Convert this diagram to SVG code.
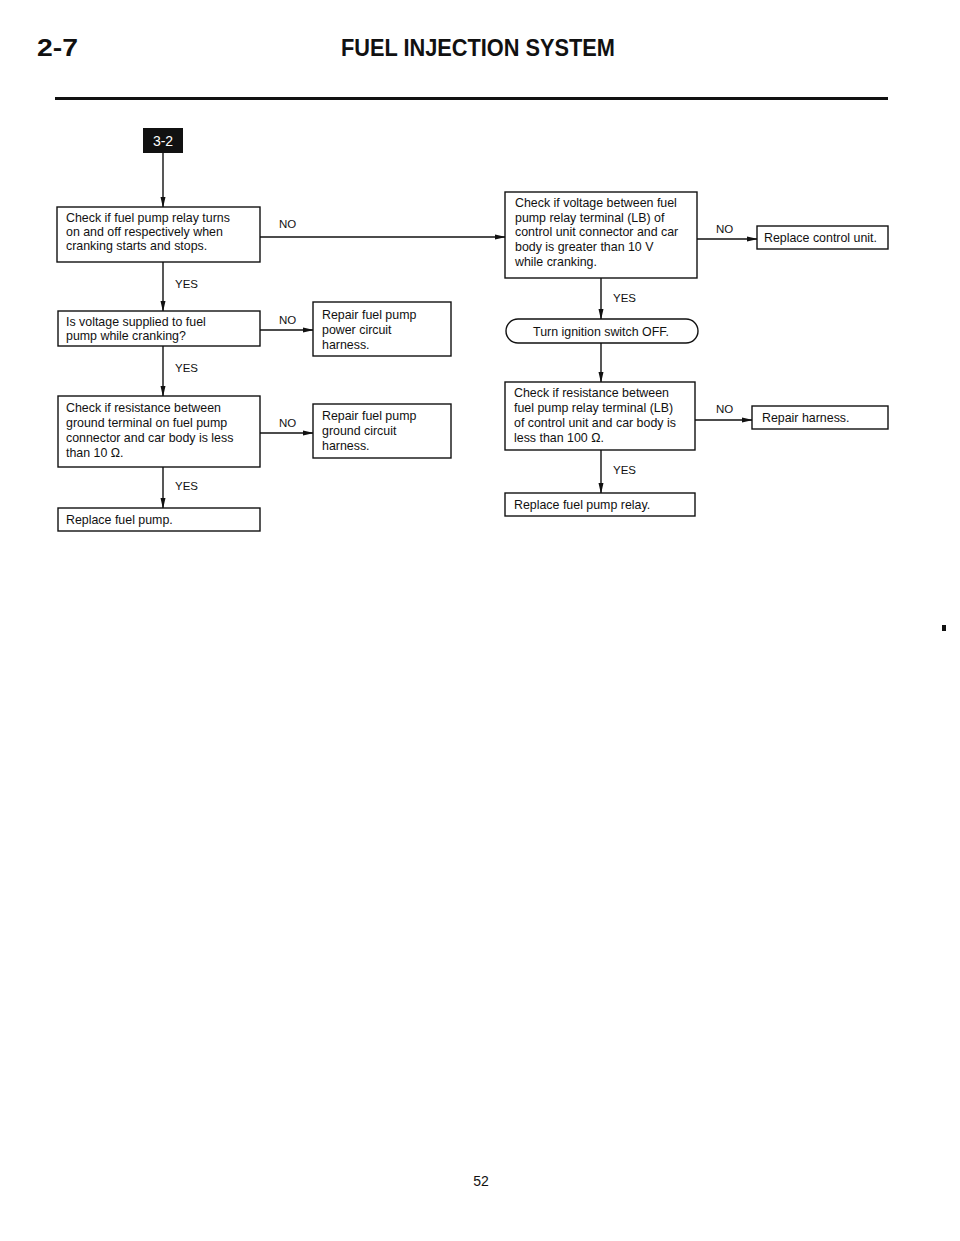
<svg xmlns="http://www.w3.org/2000/svg" width="960" height="1241" viewBox="0 0 960 1241">
<defs>
<marker id="ah" markerWidth="11" markerHeight="6" refX="10" refY="3" orient="auto" markerUnits="userSpaceOnUse">
<path d="M0,0.5 L11,3 L0,5.5 z" fill="#111"/>
</marker>
<style>
.bx{fill:#fff;stroke:#111;stroke-width:1.4}
.t{font-family:"Liberation Sans",Arial,sans-serif;font-size:12.4px;fill:#111}
.lb{font-family:"Liberation Sans",Arial,sans-serif;font-size:11.5px;fill:#111}
.ln{fill:none;stroke:#111;stroke-width:1.4}
.hd{font-family:"Liberation Sans",Arial,sans-serif;font-weight:bold;fill:#111}
</style>
</defs>
<rect width="960" height="1241" fill="#fff"/>
<g id="header">
<text class="hd" x="37" y="56" font-size="23" textLength="41" lengthAdjust="spacingAndGlyphs">2-7</text>
<text class="hd" x="341" y="56" font-size="23" textLength="274" lengthAdjust="spacingAndGlyphs">FUEL INJECTION SYSTEM</text>
<line x1="55" y1="98.5" x2="888" y2="98.5" stroke="#111" stroke-width="3"/>
</g>
<g id="connectors">
<line class="ln" x1="163" y1="153" x2="163" y2="207" marker-end="url(#ah)"/>
<line class="ln" x1="163" y1="262" x2="163" y2="311" marker-end="url(#ah)"/>
<line class="ln" x1="163" y1="346" x2="163" y2="396" marker-end="url(#ah)"/>
<line class="ln" x1="163" y1="467" x2="163" y2="508" marker-end="url(#ah)"/>
<line class="ln" x1="260" y1="237" x2="505" y2="237" marker-end="url(#ah)"/>
<line class="ln" x1="260" y1="330" x2="313" y2="330" marker-end="url(#ah)"/>
<line class="ln" x1="260" y1="433" x2="313" y2="433" marker-end="url(#ah)"/>
<line class="ln" x1="697" y1="239" x2="757" y2="239" marker-end="url(#ah)"/>
<line class="ln" x1="601" y1="278" x2="601" y2="319" marker-end="url(#ah)"/>
<line class="ln" x1="601" y1="343" x2="601" y2="382" marker-end="url(#ah)"/>
<line class="ln" x1="695" y1="420" x2="752" y2="420" marker-end="url(#ah)"/>
<line class="ln" x1="601" y1="450" x2="601" y2="493" marker-end="url(#ah)"/>
<text class="lb" x="279" y="228">NO</text>
<text class="lb" x="175" y="288">YES</text>
<text class="lb" x="279" y="324">NO</text>
<text class="lb" x="175" y="372">YES</text>
<text class="lb" x="279" y="427">NO</text>
<text class="lb" x="175" y="490">YES</text>
<text class="lb" x="716" y="233">NO</text>
<text class="lb" x="613" y="302">YES</text>
<text class="lb" x="716" y="413">NO</text>
<text class="lb" x="613" y="474">YES</text>
</g>
<g id="start">
<rect x="143" y="128" width="40" height="25" fill="#111"/>
<text x="163" y="146" text-anchor="middle" font-family="Liberation Sans, Arial, sans-serif" font-size="14" fill="#fff">3-2</text>
</g>
<g id="n1">
<rect class="bx" x="57" y="207" width="203" height="55"/>
<text class="t" x="66" y="222">Check if fuel pump relay turns</text>
<text class="t" x="66" y="236">on and off respectively when</text>
<text class="t" x="66" y="250">cranking starts and stops.</text>
</g>
<g id="n2">
<rect class="bx" x="58" y="311" width="202" height="35"/>
<text class="t" x="66" y="326">Is voltage supplied to fuel</text>
<text class="t" x="66" y="340">pump while cranking?</text>
</g>
<g id="n3">
<rect class="bx" x="313" y="302" width="138" height="54"/>
<text class="t" x="322" y="319">Repair fuel pump</text>
<text class="t" x="322" y="334">power circuit</text>
<text class="t" x="322" y="349">harness.</text>
</g>
<g id="n4">
<rect class="bx" x="58" y="396" width="202" height="71"/>
<text class="t" x="66" y="412">Check if resistance between</text>
<text class="t" x="66" y="427">ground terminal on fuel pump</text>
<text class="t" x="66" y="442">connector and car body is less</text>
<text class="t" x="66" y="457">than 10 Ω.</text>
</g>
<g id="n5">
<rect class="bx" x="313" y="404" width="138" height="54"/>
<text class="t" x="322" y="420">Repair fuel pump</text>
<text class="t" x="322" y="435">ground circuit</text>
<text class="t" x="322" y="450">harness.</text>
</g>
<g id="n6">
<rect class="bx" x="58" y="508" width="202" height="23"/>
<text class="t" x="66" y="524">Replace fuel pump.</text>
</g>
<g id="n7">
<rect class="bx" x="505" y="192" width="192" height="86"/>
<text class="t" x="515" y="207">Check if voltage between fuel</text>
<text class="t" x="515" y="222">pump relay terminal (LB) of</text>
<text class="t" x="515" y="236">control unit connector and car</text>
<text class="t" x="515" y="251">body is greater than 10 V</text>
<text class="t" x="515" y="266">while cranking.</text>
</g>
<g id="n8">
<rect class="bx" x="757" y="226" width="131" height="23"/>
<text class="t" x="764" y="242">Replace control unit.</text>
</g>
<g id="n9">
<rect class="bx" x="506" y="319" width="192" height="24" rx="12" ry="12"/>
<text class="t" x="601" y="335.5" text-anchor="middle">Turn ignition switch OFF.</text>
</g>
<g id="n10">
<rect class="bx" x="505" y="382" width="190" height="68"/>
<text class="t" x="514" y="397">Check if resistance between</text>
<text class="t" x="514" y="412">fuel pump relay terminal (LB)</text>
<text class="t" x="514" y="427">of control unit and car body is</text>
<text class="t" x="514" y="442">less than 100 Ω.</text>
</g>
<g id="n11">
<rect class="bx" x="752" y="406" width="136" height="23"/>
<text class="t" x="762" y="422">Repair harness.</text>
</g>
<g id="n12">
<rect class="bx" x="505" y="493" width="190" height="23"/>
<text class="t" x="514" y="509">Replace fuel pump relay.</text>
</g>
<g id="footer">
<text x="481" y="1186" text-anchor="middle" font-family="Liberation Sans, Arial, sans-serif" font-size="14" fill="#111">52</text>
<rect x="942" y="625" width="4" height="6" fill="#111"/>
</g>
</svg>
